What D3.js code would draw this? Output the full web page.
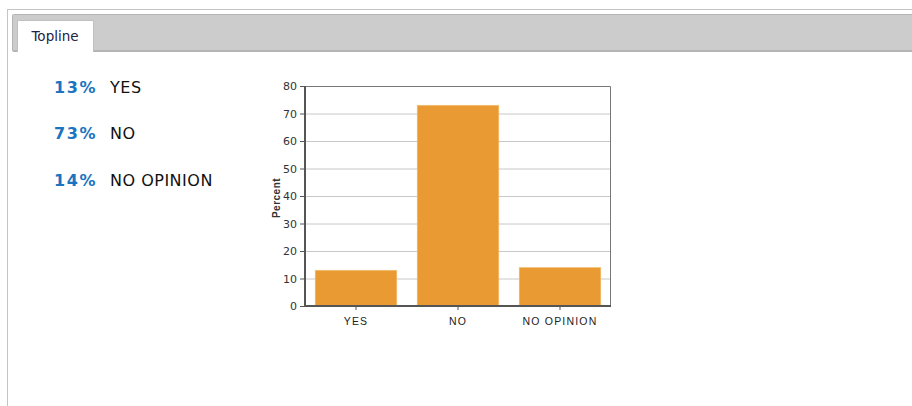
<!DOCTYPE html>
<html><head><meta charset="utf-8">
<script src="https://cdn.jsdelivr.net/npm/d3@7"></script>
<style>
html,body{margin:0;padding:0;background:#fff;}
svg{display:block;}
</style></head>
<body>
<svg id="c" width="912" height="406"></svg>
<script>
const categories = ["YES", "NO", "NO OPINION"];
const percents = [13, 73, 14];
const yTicks = [0, 10, 20, 30, 40, 50, 60, 70, 80];
const tabLabel = "Topline";
const axisTitle = "Percent";

const svg = d3.select("#c");

// outer panel
svg.append("rect").attr("x", 7.5).attr("y", 9.5).attr("width", 910).attr("height", 410)
  .attr("fill", "#fff").attr("stroke", "#c4c4c4").attr("stroke-width", 1);
// tab bar
svg.append("rect").attr("x", 12).attr("y", 14).attr("width", 905).attr("height", 38)
  .attr("fill", "#b4b4b4").attr("rx", 2);
svg.append("rect").attr("x", 13).attr("y", 15).attr("width", 905).attr("height", 35)
  .attr("fill", "#cccccc");
// tab
svg.append("rect").attr("x", 17).attr("y", 20).attr("width", 77).attr("height", 32)
  .attr("fill", "#c0c0c0");
svg.append("rect").attr("x", 18).attr("y", 21).attr("width", 75).attr("height", 31)
  .attr("fill", "#ffffff");
svg.append("text").attr("x", 55).attr("y", 41).attr("text-anchor", "middle")
  .attr("font-family", "'DejaVu Sans', Verdana, sans-serif").attr("font-size", 13.5)
  .attr("fill", "#222244").text(tabLabel);

// left summary
const rowY = d3.scaleOrdinal().domain(categories).range([93, 139, 186]);
const rows = svg.append("g").selectAll("g").data(categories).join("g");
rows.append("text").attr("x", 54).attr("y", d => rowY(d))
  .attr("font-family", "'DejaVu Sans', Verdana, sans-serif").attr("font-size", 16).attr("font-weight", "bold")
  .attr("letter-spacing", 1.6)
  .attr("fill", "#1a74bf").text((d, i) => percents[i] + "%");
rows.append("text").attr("x", 110).attr("y", d => rowY(d))
  .attr("font-family", "'DejaVu Sans', Verdana, sans-serif").attr("font-size", 16)
  .attr("letter-spacing", 0.5)
  .attr("fill", "#111").text(d => d);

// chart
const x0 = 305, x1 = 611, yTop = 86, yBot = 306;
const x = d3.scaleBand().domain(categories).range([x0, x1]).paddingInner(0.2).paddingOuter(0.1);
const y = d3.scaleLinear().domain([0, 80]).range([yBot, yTop]);

const g = svg.append("g");
// gridlines
g.selectAll("line.grid").data(yTicks.filter(t => t > 0 && t < 80)).join("line")
  .attr("x1", x0).attr("x2", x1).attr("y1", d => y(d) + 0.5).attr("y2", d => y(d) + 0.5)
  .attr("stroke", "#c8c8c8").attr("stroke-width", 1);
// frame top/right
g.append("path").attr("d", `M${x0},${yTop + 0.5}H${x1 - 0.5}V${yBot}`)
  .attr("fill", "none").attr("stroke", "#777").attr("stroke-width", 1);

// bars
g.selectAll("rect.bar").data(categories).join("rect")
  .attr("x", d => x(d)).attr("width", x.bandwidth())
  .attr("y", (d, i) => y(percents[i])).attr("height", (d, i) => y(0) - y(percents[i]))
  .attr("fill", "#e99a33").attr("stroke", "#f2c078").attr("stroke-width", 0.6);

// axes
const yAxis = d3.axisLeft(y).tickValues(yTicks).tickSize(5).tickPadding(3);
const ya = svg.append("g").attr("transform", `translate(${x0},0)`).call(yAxis);
ya.select(".domain").attr("stroke", "#555").attr("stroke-width", 2).attr("d", `M0,${yTop}V${yBot}`);
ya.selectAll(".tick line").attr("stroke", "#555");
ya.selectAll("text").attr("font-family", "'DejaVu Sans', Verdana, sans-serif").attr("font-size", 11).attr("fill", "#333");

const xAxis = d3.axisBottom(x).tickSize(4).tickPadding(8);
const xa = svg.append("g").attr("transform", `translate(0,${yBot})`).call(xAxis);
xa.select(".domain").attr("stroke", "#555").attr("stroke-width", 2).attr("d", `M${x0},0H${x1}`);
xa.selectAll(".tick line").attr("stroke", "#555");
xa.selectAll("text").attr("font-family", "Arial, 'Liberation Sans', sans-serif").attr("font-size", 10.5)
  .attr("fill", "#222").attr("letter-spacing", 1.2);

svg.append("text").attr("transform", `translate(280,${(yTop + yBot) / 2 + 2}) rotate(-90)`)
  .attr("text-anchor", "middle").attr("font-family", "Arial, 'Liberation Sans', sans-serif")
  .attr("font-size", 10).attr("font-weight", "bold").attr("letter-spacing", 0.5).attr("fill", "#333").text(axisTitle);
</script>
</body></html>
